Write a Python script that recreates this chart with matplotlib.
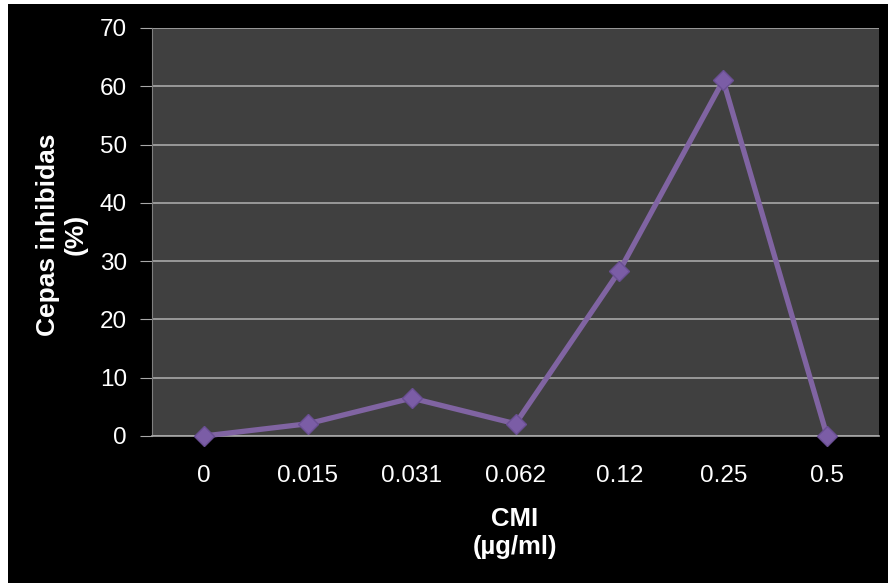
import matplotlib
matplotlib.use('Agg')
import matplotlib.pyplot as plt
from matplotlib.patches import Rectangle

# data
categories = ['0', '0.015', '0.031', '0.062', '0.12', '0.25', '0.5']
inhibited = [0, 2.1, 6.5, 2.1, 28.3, 61.0, 0]
y_ticks = [0, 10, 20, 30, 40, 50, 60, 70]

plt.rcParams['font.family'] = ['Liberation Sans', 'DejaVu Sans']

fig = plt.figure(figsize=(8.88, 5.83), dpi=100, facecolor='white')
# black slide background with a thin white margin on top/left
fig.patches.append(Rectangle((8 / 888, 0), 1, (583 - 4) / 583,
                             transform=fig.transFigure, facecolor='black',
                             edgecolor='none', zorder=-10))

ax = fig.add_axes([152 / 888, (583 - 436) / 583, (879 - 152) / 888, (436 - 28) / 583])
ax.set_facecolor('#404040')

x = range(len(categories))
ax.plot(x, inhibited, color='#8064A2', linewidth=3.8, marker='D',
        markersize=10, markerfacecolor='#7B5DA6', markeredgecolor='#6A4F93',
        zorder=3, clip_on=False)

ax.set_xlim(-0.5, len(categories) - 0.5)
ax.set_ylim(0, 70)
ax.set_yticks(y_ticks)
ax.set_xticks(list(x))
ax.set_xticklabels(categories)
ax.yaxis.grid(True, color='#A8A8A8', linewidth=1.2)
ax.set_axisbelow(True)

for side in ['top', 'right']:
    ax.spines[side].set_visible(False)
ax.spines['left'].set_color('#808080')
ax.spines['bottom'].set_color('#A8A8A8')
ax.spines['bottom'].set_linewidth(1.2)

ax.tick_params(axis='y', colors='white', labelsize=17.5, length=9,
               color='#A8A8A8', pad=9)
ax.tick_params(axis='x', colors='white', labelsize=17.5, length=0, pad=21)

ax.set_xlabel('CMI\n(µg/ml)', color='white', fontsize=18.5, fontweight='bold',
              va='center', linespacing=1.25)
ax.xaxis.set_label_coords(0.499, -0.238)
ax.set_ylabel('Cepas inhibidas\n(%)', color='white', fontsize=19,
              fontweight='bold', va='center', linespacing=1.2)
ax.yaxis.set_label_coords(-0.124, 0.493)

fig.savefig('out.png', dpi=100, facecolor=fig.get_facecolor())
